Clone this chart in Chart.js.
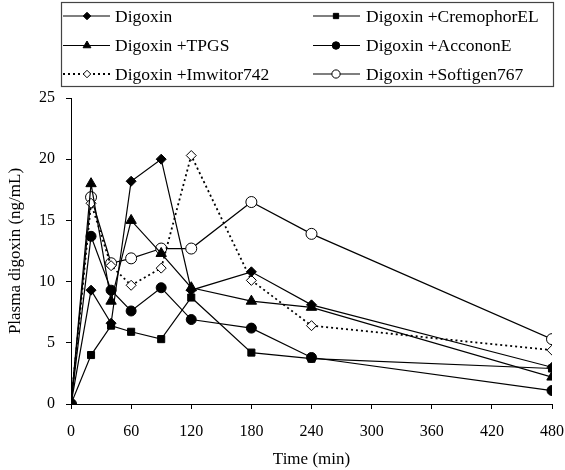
<!DOCTYPE html>
<html>
<head>
<meta charset="utf-8">
<script src="https://cdn.jsdelivr.net/npm/chart.js@4/dist/chart.umd.min.js"></script>
<style>
  html, body { margin: 0; padding: 0; background: #fff; }
  #wrap { width: 565px; height: 470px; }
</style>
</head>
<body>
<div id="wrap"><canvas id="pk"></canvas></div>
<script>
// sampling times (min)
const times = [0, 20, 40, 60, 90, 120, 180, 240, 480];
const xTicks = [0, 60, 120, 180, 240, 300, 360, 420, 480];

// plasma digoxin (ng/mL)
const digoxin     = [0, 9.3, 6.6, 18.2, 20.0, 9.3, 10.8, 8.1, 3.0];
const cremophor   = [0, 4.0, 6.4, 5.9, 5.3, 8.7, 4.2, 3.7, 2.9];
const tpgs        = [0, 18.0, 8.4, 15.0, 12.3, 9.5, 8.4, 7.9, 2.2];
const accononE    = [0, 13.7, 9.3, 7.6, 9.5, 6.9, 6.2, 3.8, 1.1];
const imwitor742  = [0, 16.4, 11.3, 9.7, 11.1, 20.3, 10.1, 6.4, 4.4];
const softigen767 = [0, 16.9, 11.5, 11.9, 12.7, 12.7, 16.5, 13.9, 5.3];

const serif = '"Liberation Serif", "Times New Roman", serif';
const pts = arr => arr.map((y, i) => ({ x: times[i], y }));

const series = [
  { label: 'Digoxin', data: digoxin, style: 'rectRot', r: 5, fill: '#000', col: 0, row: 0 },
  { label: 'Digoxin +CremophorEL', data: cremophor, style: 'rect', r: 5, fill: '#000', col: 1, row: 0 },
  { label: 'Digoxin +TPGS', data: tpgs, style: 'triangle', r: 6, fill: '#000', col: 0, row: 1 },
  { label: 'Digoxin +AccononE', data: accononE, style: 'circle', r: 5, fill: '#000', col: 1, row: 1 },
  { label: 'Digoxin +Imwitor742', data: imwitor742, style: 'rectRot', r: 5, fill: '#fff', dash: [2, 3], col: 0, row: 2 },
  { label: 'Digoxin +Softigen767', data: softigen767, style: 'circle', r: 5.5, fill: '#fff', col: 1, row: 2 },
];

// boxed two-column legend with line + marker samples
const boxLegend = {
  id: 'boxLegend',
  afterDraw(chart) {
    const ctx = chart.ctx;
    ctx.save();
    ctx.strokeStyle = '#444';
    ctx.lineWidth = 1.2;
    ctx.strokeRect(61.5, 2.5, 492, 84);
    const cols = [{ x1: 63, x2: 110, m: 87, t: 115 }, { x1: 313, x2: 360, m: 336, t: 366 }];
    const rows = [16, 45.5, 74];
    chart.data.datasets.forEach((ds, i) => {
      const s = series[i];
      const c = cols[s.col], y = rows[s.row];
      ctx.beginPath();
      ctx.setLineDash(s.dash ? [2, 3] : []);
      ctx.lineWidth = s.dash ? 1.8 : 1.2;
      ctx.strokeStyle = '#000';
      ctx.moveTo(c.x1, y);
      ctx.lineTo(c.x2, y);
      ctx.stroke();
      ctx.setLineDash([]);
      ctx.fillStyle = s.fill;
      ctx.lineWidth = 1;
      Chart.helpers.drawPoint(ctx, { pointStyle: s.style, radius: s.r * 0.75, rotation: 0, borderWidth: 1 }, c.m, y);
      ctx.fillStyle = '#000';
      ctx.font = '17.5px ' + serif;
      ctx.textBaseline = 'middle';
      ctx.fillText(s.label, c.t, y + 1);
    });
    ctx.restore();
  }
};

new Chart(document.getElementById('pk'), {
  type: 'line',
  data: {
    datasets: series.map(s => ({
      label: s.label,
      data: pts(s.data),
      borderColor: '#000',
      borderWidth: s.dash ? 1.8 : 1.2,
      borderDash: s.dash || [],
      pointStyle: s.style,
      pointRadius: s.r,
      pointBackgroundColor: s.fill,
      pointBorderColor: '#000',
      pointBorderWidth: 1,
      tension: 0,
    })),
  },
  options: {
    responsive: true,
    maintainAspectRatio: false,
    animation: false,
    layout: { padding: { top: 98, right: 13, left: 0, bottom: 0 } },
    plugins: {
      legend: { display: false },
      tooltip: { enabled: false },
    },
    scales: {
      x: {
        type: 'linear',
        min: 0,
        max: 480,
        afterFit: s => { s.height = 66; s.paddingLeft = 0; s.paddingRight = 0; },
        afterBuildTicks: s => { s.ticks = xTicks.map(v => ({ value: v })); },
        border: { display: true, color: '#000', width: 1 },
        grid: { display: true, drawOnChartArea: false, drawTicks: true, tickLength: 5, color: '#000' },
        ticks: { color: '#000', padding: 13, maxRotation: 0, font: { family: serif, size: 16 } },
        title: { display: true, text: 'Time (min)', color: '#000', padding: { top: 0, bottom: 0 }, font: { family: serif, size: 17 } },
      },
      y: {
        min: 0,
        max: 25,
        afterFit: s => { s.width = 71; s.paddingTop = 0; s.paddingBottom = 0; },
        border: { display: true, color: '#000', width: 1 },
        grid: { display: true, drawOnChartArea: false, drawTicks: true, tickLength: 5, color: '#000' },
        ticks: { stepSize: 5, color: '#000', padding: 11, font: { family: serif, size: 16 } },
        title: { display: true, text: 'Plasma digoxin (ng/mL)', color: '#000', padding: { top: 5, bottom: 0 }, font: { family: serif, size: 17 } },
      },
    },
  },
  plugins: [boxLegend],
});
</script>
</body>
</html>
